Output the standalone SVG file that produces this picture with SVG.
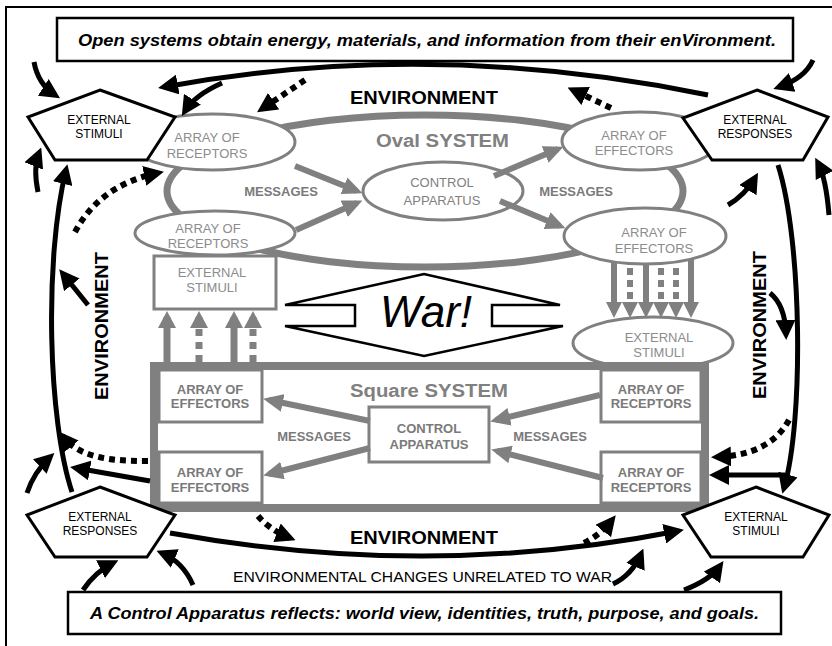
<svg xmlns="http://www.w3.org/2000/svg" width="832" height="646" viewBox="0 0 832 646">
<style>
text{font-family:"Liberation Sans",Arial,sans-serif;text-anchor:middle}
.t13{font-size:13px}
.t12{font-size:12px}
.gl{fill:#8c8c8c}
.gd{fill:#7a7a7a;font-weight:bold}
.k{fill:#000}
.env{font-size:19px;font-weight:bold;fill:#000}
.sys{font-size:18px;font-weight:bold;fill:#808080}
.note{font-size:16px;font-weight:bold;font-style:italic;fill:#000}
.ov{fill:#fff;stroke:#808080;stroke-width:3}
.bx{fill:#fff;stroke:#808080;stroke-width:3}
.pent{fill:#fff;stroke:#000;stroke-width:3}
.ga{fill:none;stroke:#808080;stroke-width:6;marker-end:url(#hg)}
.gu{fill:none;stroke:#808080;stroke-width:7;marker-end:url(#hu)}
.gud{fill:none;stroke:#808080;stroke-width:7;stroke-dasharray:7 6;marker-end:url(#hu)}
.gdn{fill:none;stroke:#808080;stroke-width:6;marker-end:url(#hd)}
.gdnd{fill:none;stroke:#808080;stroke-width:6;stroke-dasharray:7 5;marker-end:url(#hd)}
.ba{fill:none;stroke:#000;stroke-width:5;marker-end:url(#hb)}
.bd{fill:none;stroke:#000;stroke-width:6;stroke-dasharray:6 5;marker-end:url(#hb)}
</style>
<defs>
<marker id="hb" markerUnits="userSpaceOnUse" markerWidth="20" markerHeight="20" viewBox="0 0 20 20" refX="14" refY="10" orient="auto"><path d="M0,0 L20,10 L0,20 z" fill="#000"/></marker>
<marker id="hg" markerUnits="userSpaceOnUse" markerWidth="20" markerHeight="18" viewBox="0 0 20 18" refX="14" refY="9" orient="auto"><path d="M0,0 L20,9 L0,18 z" fill="#808080"/></marker>
<marker id="hu" markerUnits="userSpaceOnUse" markerWidth="17" markerHeight="18" viewBox="0 0 17 18" refX="11" refY="9" orient="auto"><path d="M0,0 L17,9 L0,18 z" fill="#808080"/></marker>
<marker id="hd" markerUnits="userSpaceOnUse" markerWidth="16" markerHeight="16" viewBox="0 0 16 16" refX="10" refY="8" orient="auto"><path d="M0,0 L16,8 L0,16 z" fill="#808080"/></marker>
</defs>
<rect width="832" height="646" fill="#fff"/>
<rect x="6" y="7" width="840" height="660" fill="none" stroke="#000" stroke-width="2"/>

<g id="note-top">
<rect x="57" y="18" width="736" height="43" fill="#fff" stroke="#000" stroke-width="2.5"/>
<text class="note" x="427" y="46" textLength="698" lengthAdjust="spacingAndGlyphs">Open systems obtain energy, materials, and information from their enVironment.</text>
</g>
<g id="note-bottom">
<rect x="68" y="592" width="713" height="42" fill="#fff" stroke="#000" stroke-width="2.5"/>
<text class="note" x="424.5" y="619" textLength="669" lengthAdjust="spacingAndGlyphs">A Control Apparatus reflects: world view, identities, truth, purpose, and goals.</text>
</g>

<g id="env-labels">
<text class="env" x="424" y="104" textLength="148" lengthAdjust="spacingAndGlyphs">ENVIRONMENT</text>
<text class="env" x="424" y="544" textLength="148" lengthAdjust="spacingAndGlyphs">ENVIRONMENT</text>
<text class="env" transform="translate(108,326) rotate(-90)" textLength="148" lengthAdjust="spacingAndGlyphs">ENVIRONMENT</text>
<text class="env" transform="translate(766,325) rotate(-90)" textLength="148" lengthAdjust="spacingAndGlyphs">ENVIRONMENT</text>
<text x="422.5" y="582" font-size="14.5" fill="#000" textLength="379" lengthAdjust="spacingAndGlyphs">ENVIRONMENTAL CHANGES UNRELATED TO WAR</text>
</g>

<g id="oval-system">
<ellipse cx="425" cy="191" rx="258" ry="76" fill="none" stroke="#808080" stroke-width="7"/>
<text class="sys" x="442.5" y="147" textLength="133" lengthAdjust="spacingAndGlyphs">Oval SYSTEM</text>
<text class="t13 gd" x="281" y="196">MESSAGES</text>
<text class="t13 gd" x="576" y="196">MESSAGES</text>
</g>

<g id="oval-receptors-top">
<ellipse class="ov" cx="212" cy="142" rx="83" ry="28"/>
<text class="t13 gl" x="207" y="142">ARRAY OF</text>
<text class="t13 gl" x="207" y="158">RECEPTORS</text>
</g>
<g id="oval-receptors-bottom">
<ellipse class="ov" cx="215" cy="233" rx="80" ry="22"/>
<text class="t13 gl" x="208" y="233">ARRAY OF</text>
<text class="t13 gl" x="208" y="248">RECEPTORS</text>
</g>
<g id="oval-control">
<ellipse class="ov" cx="443" cy="191" rx="80" ry="29"/>
<text class="t13" fill="#808080" x="442" y="187">CONTROL</text>
<text class="t13" fill="#808080" x="442" y="205">APPARATUS</text>
</g>
<g id="oval-effectors-top">
<ellipse class="ov" cx="640" cy="141" rx="78" ry="29"/>
<text class="t13 gl" x="634" y="140">ARRAY OF</text>
<text class="t13 gl" x="634" y="155">EFFECTORS</text>
</g>
<g id="oval-effectors-bottom">
<ellipse class="ov" cx="645" cy="236" rx="81" ry="28"/>
<text class="t13 gl" x="654" y="237">ARRAY OF</text>
<text class="t13 gl" x="654" y="253">EFFECTORS</text>
</g>
<g id="oval-ext-stimuli">
<rect class="bx" x="154" y="256" width="122" height="53"/>
<text class="t13 gl" x="212" y="277">EXTERNAL</text>
<text class="t13 gl" x="212" y="292">STIMULI</text>
</g>

<g id="square-ext-stimuli">
<ellipse class="ov" cx="653" cy="343" rx="80" ry="26"/>
<text class="t13 gl" x="659" y="342">EXTERNAL</text>
<text class="t13 gl" x="659" y="357">STIMULI</text>
</g>

<g id="square-system">
<rect x="154" y="366" width="551" height="142" fill="#fff" stroke="#808080" stroke-width="8"/>
<text class="sys" x="429" y="397" textLength="158" lengthAdjust="spacingAndGlyphs">Square SYSTEM</text>
<text class="t13 gd" x="314" y="441">MESSAGES</text>
<text class="t13 gd" x="550" y="441">MESSAGES</text>
</g>
<g id="square-effectors-top">
<rect class="bx" x="159" y="370" width="103" height="52"/>
<text class="t13 gd" x="210" y="394">ARRAY OF</text>
<text class="t13 gd" x="210" y="408">EFFECTORS</text>
</g>
<g id="square-effectors-bottom">
<rect class="bx" x="159" y="452" width="103" height="51"/>
<text class="t13 gd" x="210" y="477">ARRAY OF</text>
<text class="t13 gd" x="210" y="492">EFFECTORS</text>
</g>
<g id="square-receptors-top">
<rect class="bx" x="601" y="370" width="100" height="52"/>
<text class="t13 gd" x="651" y="394">ARRAY OF</text>
<text class="t13 gd" x="651" y="408">RECEPTORS</text>
</g>
<g id="square-receptors-bottom">
<rect class="bx" x="601" y="452" width="100" height="51"/>
<text class="t13 gd" x="651" y="477">ARRAY OF</text>
<text class="t13 gd" x="651" y="492">RECEPTORS</text>
</g>
<g id="square-control">
<rect class="bx" x="369" y="407" width="120" height="55"/>
<text class="t13 gd" x="429" y="433">CONTROL</text>
<text class="t13 gd" x="429" y="449">APPARATUS</text>
</g>

<g id="war">
<polygon points="285,305 424,274 560,305 492,305 492,326 563,326 424,356 285,326 355,326 355,305" fill="#fff" stroke="#000" stroke-width="2.5"/>
<text x="426" y="327" font-size="44" font-style="italic" fill="#000">War!</text>
</g>

<g id="connectors">
<g id="gray-connectors">
<path class="ga" d="M295,166 L357,191"/>
<path class="ga" d="M296,230 L357,203"/>
<path class="ga" d="M494,176 L558,149"/>
<path class="ga" d="M500,201 L560,226"/>
<path class="ga" d="M370,421 L269,400"/>
<path class="ga" d="M370,448 L269,474"/>
<path class="ga" d="M600,395 L496,420"/>
<path class="ga" d="M603,478 L497,451"/>
<path class="gu" d="M167,362 L167,317"/>
<path class="gud" d="M199,362 L199,317"/>
<path class="gu" d="M234,362 L234,317"/>
<path class="gud" d="M253,362 L253,317"/>
<path class="gdn" d="M614,261 L614,312"/>
<path class="gdnd" d="M630,268 L630,312"/>
<path class="gdn" d="M646,263 L646,312"/>
<path class="gdnd" d="M661,268 L661,312"/>
<path class="gdnd" d="M676,268 L676,312"/>
<path class="gdn" d="M691,259 L691,312"/>
</g>
<g id="black-connectors">
<path class="ba" d="M708,95 Q430,38 164,87"/>
<path class="ba" d="M34,62 Q38,84 55,95"/>
<path class="ba" d="M222,83 Q195,95 185,111"/>
<path class="bd" d="M305,80 L262,109"/>
<path class="ba" d="M38,192 Q33,168 39,153"/>
<path class="ba" d="M72,492 C48,420 44,260 66,170"/>
<path class="ba" d="M27,493 Q34,472 50,457"/>
<path class="ba" d="M88,305 Q76,290 63,274"/>
<path class="bd" d="M75,232 Q100,185 158,173"/>
<path class="bd" d="M148,461 C110,461 80,458 62,436"/>
<path class="ba" d="M150,481 L76,468"/>
<path class="ba" d="M83,590 Q95,572 113,563"/>
<path class="ba" d="M193,585 Q183,562 162,553"/>
<path class="bd" d="M258,516 Q270,530 290,538"/>
<path class="ba" d="M170,533 Q430,580 678,531"/>
<path class="bd" d="M584,543 Q600,535 612,520"/>
<path class="ba" d="M613,584 Q632,575 641,554"/>
<path class="ba" d="M684,590 Q710,580 720,566"/>
<path class="ba" d="M778,165 C802,240 804,420 784,488"/>
<path class="ba" d="M728,205 Q745,195 755,178"/>
<path class="ba" d="M829,215 Q826,178 818,163"/>
<path class="ba" d="M813,60 Q805,78 779,87"/>
<path class="bd" d="M611,108 L573,90"/>
<path class="ba" d="M770,293 Q785,305 786,334"/>
<path class="bd" d="M789,420 Q770,455 717,457"/>
<path class="ba" d="M785,475 L715,475"/>
</g>
</g>

<g id="pent-stimuli-top">
<polygon class="pent" points="100,90 175,117 147,160 55,160 28,117"/>
<text class="t12 k" x="99" y="124">EXTERNAL</text>
<text class="t12 k" x="99" y="138">STIMULI</text>
</g>
<g id="pent-responses-top">
<polygon class="pent" points="757,90 828,117 803,160 712,160 683,118"/>
<text class="t12 k" x="755" y="124">EXTERNAL</text>
<text class="t12 k" x="755" y="138">RESPONSES</text>
</g>
<g id="pent-responses-bottom">
<polygon class="pent" points="100,487 175,515 147,557 55,557 27,515"/>
<text class="t12 k" x="100" y="521">EXTERNAL</text>
<text class="t12 k" x="100" y="535">RESPONSES</text>
</g>
<g id="pent-stimuli-bottom">
<polygon class="pent" points="756,487 829,515 803,557 711,557 683,515"/>
<text class="t12 k" x="756" y="521">EXTERNAL</text>
<text class="t12 k" x="756" y="535">STIMULI</text>
</g>
</svg>
